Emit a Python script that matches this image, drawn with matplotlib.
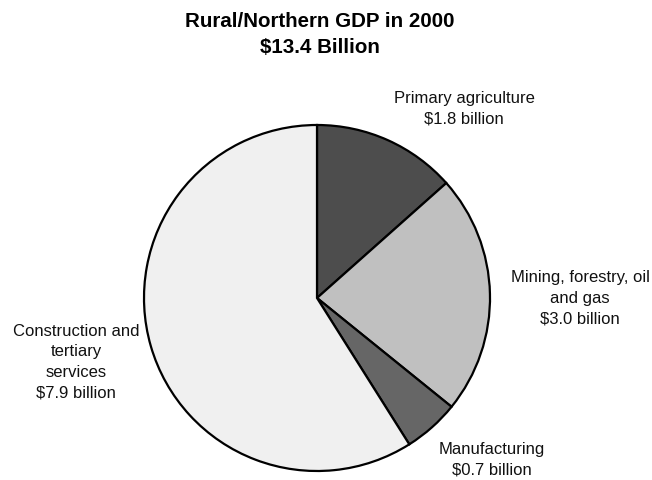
import matplotlib
matplotlib.use("Agg")
import matplotlib.pyplot as plt

plt.rcParams['font.family'] = ['Liberation Sans', 'DejaVu Sans']

# GDP by sector, billions of dollars
sectors = ["Primary agriculture", "Mining, forestry, oil\nand gas",
           "Manufacturing", "Construction and\ntertiary\nservices"]
gdp = [1.8, 3.0, 0.7, 7.9]
colors = ["#4d4d4d", "#c0c0c0", "#666666", "#f0f0f0"]
total = 13.4

fig = plt.figure(figsize=(6.52, 4.81), dpi=100)
ax = fig.add_axes([0, 0, 1, 1])
ax.set_aspect('equal')
ax.axis('off')

ax.pie(gdp, colors=colors, startangle=90, counterclock=False,
       center=(317, 182), radius=173,
       wedgeprops=dict(edgecolor='black', linewidth=1.6))
ax.set_xlim(0, 652)
ax.set_ylim(0, 481)

# label positions (pixels from top-left)
label_pos = [(464, 109), (580, 298.5), (492, 460), (76, 362)]
for name, val, (x, y) in zip(sectors, gdp, label_pos):
    ax.text(x, 481 - y, f"{name}\n${val:.1f} billion", ha='center', va='center',
            fontsize=12, linespacing=1.47, color='#111111')

ax.text(319.5, 481 - 34.5, f"Rural/Northern GDP in 2000\n${total} Billion",
        ha='center', va='center', fontsize=14.8, fontweight='bold', linespacing=1.42)

fig.savefig("out.png", dpi=100)
